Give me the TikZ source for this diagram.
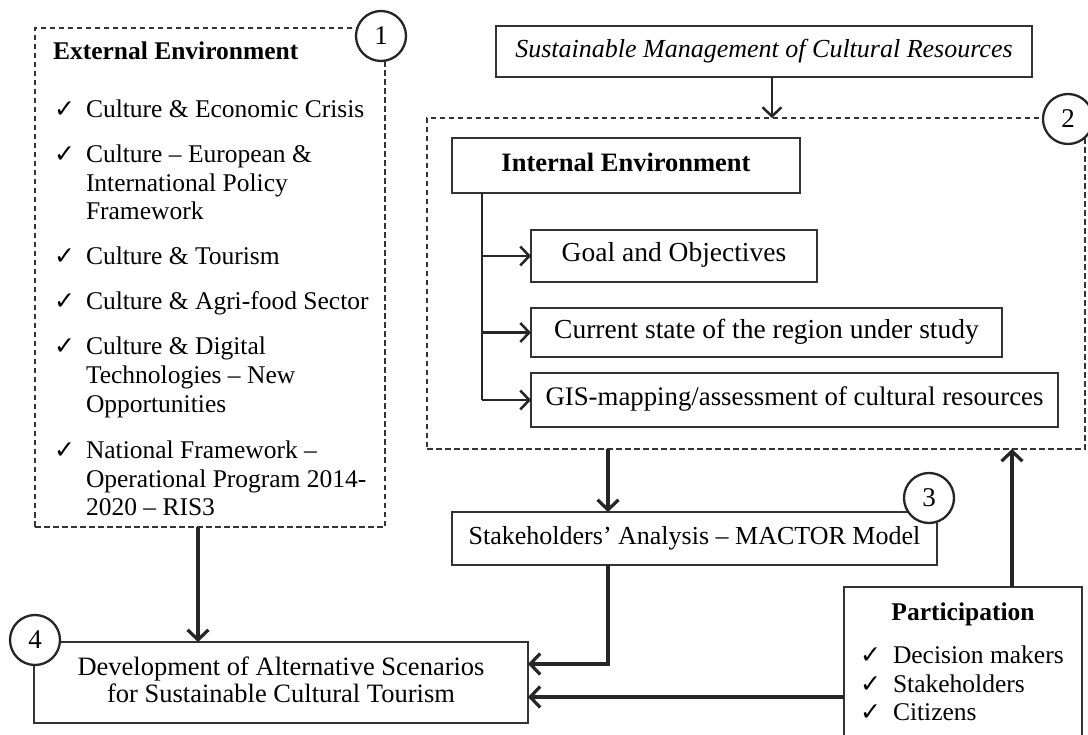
\documentclass[tikz,border=0pt]{standalone}
\usepackage{fontspec}
\setmainfont{Liberation Serif}
\newfontfamily\symfont{DejaVu Sans}
\usetikzlibrary{arrows.meta}

\begin{document}
\begin{tikzpicture}[x=1pt,y=-1pt,
  every node/.style={inner sep=0pt, outer sep=0pt},
  ink/.style={draw=black!85},
  box/.style={draw=black!80, line width=2.3pt, fill=white, text height=17pt, text depth=5pt},
  dashbox/.style={draw=black!80, line width=2pt, dash pattern=on 5.5pt off 3.5pt},
  num/.style={circle, draw=black!85, line width=2.3pt, fill=white, minimum size=50pt,
    font=\fontsize{27}{27}\selectfont},
  txt/.style={font=\fontsize{25.5}{29}\selectfont},
  itxt/.style={font=\fontsize{27.5}{29}\selectfont},
  btxt/.style={font=\fontsize{25.5}{29}\selectfont\bfseries},
  tick/.style={font=\symfont\fontsize{25}{25}\selectfont},
  arr/.style={draw=black!85, line width=3.2pt, -{Straight Barb[length=10pt,width=21pt]}},
  thinarr/.style={draw=black!85, line width=2.5pt, -{Straight Barb[length=9pt,width=19pt]}},
]
\useasboundingbox (0,0) rectangle (1088,735);
\fill[white] (0,0) rectangle (1088,735);

% ---- dashed frames ----
\node[dashbox, minimum width=350pt, minimum height=499pt] (ext) at (210,277.5) {};
\node[dashbox, minimum width=658pt, minimum height=331pt] (env2) at (756,283.5) {};

% ---- external environment list ----
\node[btxt, anchor=base west] (exth) at (53,60) {External Environment};
\node[tick, anchor=base west] (t1) at (54,118) {✓};
\node[txt, anchor=base west] (e1) at (86,118) {Culture \& Economic Crisis};
\node[tick, anchor=base west] (t2) at (54,163) {✓};
\node[txt, anchor=base west] (e2a) at (86,163) {Culture – European \&};
\node[txt, anchor=base west] (e2b) at (86,192) {International Policy};
\node[txt, anchor=base west] (e2c) at (86,220) {Framework};
\node[tick, anchor=base west] (t3) at (54,265) {✓};
\node[txt, anchor=base west] (e3) at (86,265) {Culture \& Tourism};
\node[tick, anchor=base west] (t4) at (54,310) {✓};
\node[txt, anchor=base west] (e4) at (86,310) {Culture \& Agri-food Sector};
\node[tick, anchor=base west] (t5) at (54,355) {✓};
\node[txt, anchor=base west] (e5a) at (86,355) {Culture \& Digital};
\node[txt, anchor=base west] (e5b) at (86,384) {Technologies – New};
\node[txt, anchor=base west] (e5c) at (86,413) {Opportunities};
\node[tick, anchor=base west] (t6) at (54,458) {✓};
\node[txt, anchor=base west] (e6a) at (86,458) {National Framework –};
\node[txt, anchor=base west] (e6b) at (86,487) {Operational Program 2014-};
\node[txt, anchor=base west] (e6c) at (86,515) {2020 – RIS3};

% ---- solid boxes ----
\node[box, minimum width=536pt, minimum height=51pt,
  font=\fontsize{26}{29}\selectfont\itshape] (sus) at (764,51.5)
  {Sustainable Management of Cultural Resources};
\node[box, font=\fontsize{26.5}{29}\selectfont\bfseries, minimum width=348pt, minimum height=55pt] (int) at (626,165.5) {Internal Environment};
\node[box, itxt, minimum width=286pt, minimum height=52pt] (goal) at (674,256) {Goal and Objectives};
\node[box, itxt, minimum width=471pt, minimum height=49pt] (cur) at (766.5,332.5) {Current state of the region under study};
\node[box, font=\fontsize{26.8}{29}\selectfont, minimum width=527pt, minimum height=54pt] (gis) at (794.5,400) {GIS-mapping/assessment of cultural resources};
\node[box, font=\fontsize{26}{29}\selectfont, minimum width=485pt, minimum height=53pt] (stk) at (694.5,538.5) {Stakeholders’ Analysis – MACTOR Model};
\node[box, minimum width=494pt, minimum height=81pt] (dev) at (281,682.5) {};
\node[font=\fontsize{26.5}{29}\selectfont, anchor=base] (dev1) at (281,675) {Development of Alternative Scenarios};
\node[font=\fontsize{26.5}{29}\selectfont, anchor=base] (dev2) at (281,702) {for Sustainable Cultural Tourism};
\node[box, minimum width=238pt, minimum height=158pt] (part) at (963,666) {};
\node[btxt, anchor=base] (parth) at (963,620) {Participation};
\node[tick, anchor=base west] (p1t) at (860,663) {✓};
\node[txt, anchor=base west] (p1) at (893,663) {Decision makers};
\node[tick, anchor=base west] (p2t) at (860,692) {✓};
\node[txt, anchor=base west] (p2) at (893,692) {Stakeholders};
\node[tick, anchor=base west] (p3t) at (860,720) {✓};
\node[txt, anchor=base west] (p3) at (893,720) {Citizens};

% ---- connectors ----
\coordinate (xa) at (198,0);
\coordinate (xb) at (772,0);
\coordinate (xt) at (482,0);
\coordinate (xc) at (608,0);
\coordinate (xd) at (1012,0);
\coordinate (ya) at (0,664);
\coordinate (yb) at (0,697);

\draw[arr] (ext.south -| xa) -- (dev.north -| xa);
\draw[thinarr] (sus.south -| xb) -- (env2.north -| xb);
\draw[ink, line width=2.5pt] (int.south -| xt) -- (gis.west -| xt);
\draw[thinarr] (goal.west -| xt) -- (goal.west);
\draw[thinarr] (cur.west -| xt) -- (cur.west);
\draw[thinarr] (gis.west -| xt) -- (gis.west);
\draw[arr] (env2.south -| xc) -- (stk.north -| xc);
\draw[arr] (stk.south -| xc) |- (dev.east |- ya);
\draw[arr] (part.west |- yb) -- (dev.east |- yb);
\draw[arr] (part.north -| xd) -- (env2.south -| xd);

% ---- step numbers ----
\node[num] (n1) at (381,36) {1};
\node[num] (n2) at (1068,119) {2};
\node[num] (n3) at (929,498) {3};
\node[num] (n4) at (35,640) {4};
\end{tikzpicture}
\end{document}
